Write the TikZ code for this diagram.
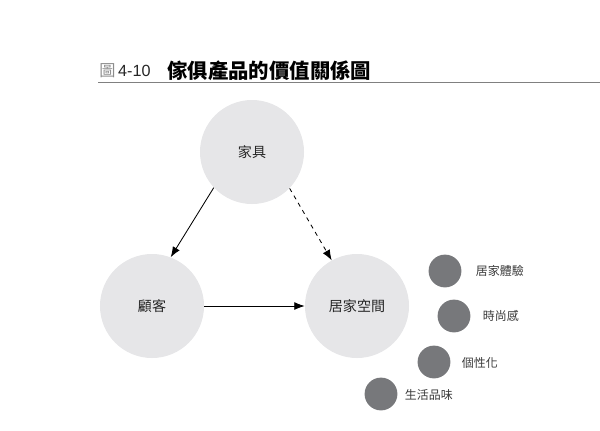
\documentclass[tikz,border=0pt]{standalone}
\usepackage{fontspec}
\usepackage{xcolor}
\setmainfont{Noto Sans CJK TC}
\newfontfamily\latinsans{Liberation Sans}
\usetikzlibrary{arrows.meta, positioning}
\definecolor{bigfill}{HTML}{E6E6E8}
\definecolor{dotfill}{HTML}{77787B}
\definecolor{labeltext}{HTML}{3A3A3A}

\begin{document}
\begin{tikzpicture}[
        x=0.025cm, y=-0.025cm,
        bigcircle/.style={circle, minimum size=2.6cm, inner sep=0pt, fill=bigfill, font=\fontsize{10}{12}\selectfont, text=black!85},
        dot/.style={circle, minimum size=0.82cm, inner sep=0pt, fill=dotfill},
        dotlabel/.style={anchor=west, font=\fontsize{8.5}{10}\selectfont, text=labeltext},
        arrow/.style={-{Latex[length=2.6mm, width=2mm]}, semithick}
    ]
        \useasboundingbox (0,0) rectangle (600,430);

        % title
        \node[anchor=west, inner sep=0pt, font=\fontsize{11.5}{13}\selectfont] (fig) at (99,71) {\textcolor{black!45}{圖}\,\textcolor{black!85}{\latinsans 4-10}};
        \node[anchor=west, inner sep=0pt, font=\bfseries\fontsize{14.5}{16}\selectfont] (title) at (167,71) {傢俱產品的價值關係圖};
        \draw[black!50, line width=0.6pt] (98,82) -- (600,82);

        % main circles
        \node[bigcircle] (furniture) at (252,152) {家具};
        \node[bigcircle] (customer) at (152,306) {顧客};
        \node[bigcircle] (space) at (357,306) {居家空間};

        \draw[arrow] (furniture.223) -- (customer.69);
        \draw[arrow, dashed] (furniture.316) -- (space.119);
        \draw[arrow] (customer.east) -- (space.west);

        % value dots
        \node[dot] (exp) at (445,271) {};
        \node[dot] (style) at (454,316) {};
        \node[dot] (person) at (434,362) {};
        \node[dot] (taste) at (381,394) {};

        \node[dotlabel] (explabel) at (471,271) {居家體驗};
        \node[dotlabel] (stylelabel) at (478,316) {時尚感};
        \node[dotlabel] (personlabel) at (457,363) {個性化};
        \node[dotlabel] (tastelabel) at (400,395) {生活品味};
    \end{tikzpicture}
\end{document}
